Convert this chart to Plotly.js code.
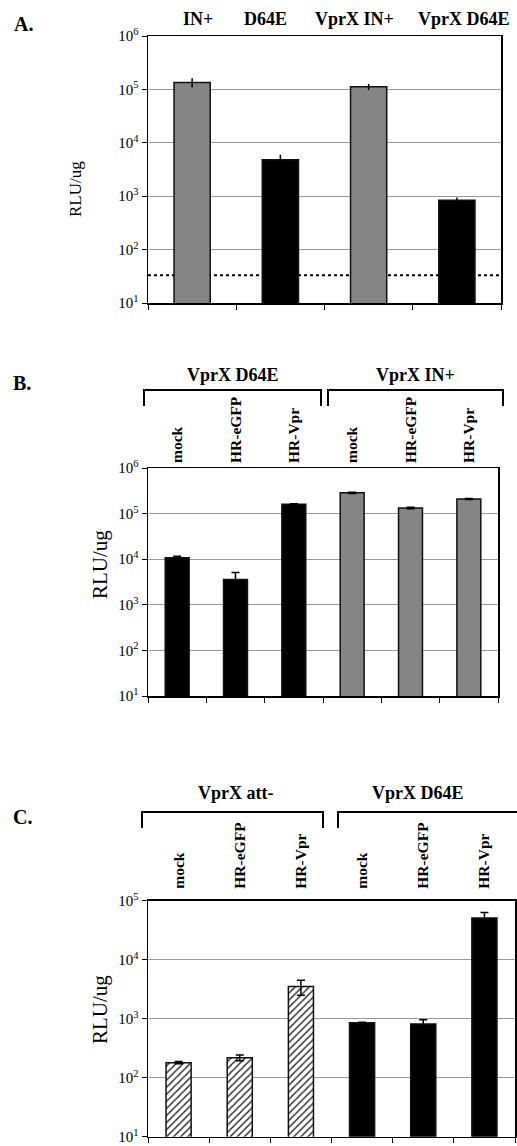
<!DOCTYPE html>
<html>
<head>
<meta charset="utf-8">
<script src="https://cdn.plot.ly/plotly-3.0.1.min.js"></script>
<style>html,body{margin:0;padding:0;background:#fff;}#chart{width:517px;height:1146px;}</style>
</head>
<body>
<div id="chart"></div>
<script>
// ---------- DATA ----------
// Panel A
const aCategories = ['IN+', 'D64E', 'VprX IN+', 'VprX D64E'];
const aValues = [135000, 4800, 112000, 840];
const aErrors = [27000, 1200, 15000, 110];
const aBackground = 33; // dotted background level

// Panel B
const bGroups = ['VprX D64E', 'VprX IN+'];
const bTreatments = ['mock', 'HR-eGFP', 'HR-Vpr', 'mock', 'HR-eGFP', 'HR-Vpr'];
const bValues = [10700, 3600, 160000, 285000, 133000, 210000];
const bErrors = [900, 1500, 4000, 10000, 5000, 5000];

// Panel C
const cGroups = ['VprX att-', 'VprX D64E'];
const cTreatments = ['mock', 'HR-eGFP', 'HR-Vpr', 'mock', 'HR-eGFP', 'HR-Vpr'];
const cValues = [180, 218, 3500, 850, 810, 51000];
const cErrors = [8, 25, 1000, 20, 150, 12000];

// Axis labels
const yTitle = 'RLU/ug';
const yTickVals6 = [10, 100, 1000, 10000, 100000, 1000000];
const yTickText6 = ['10<sup>1</sup>', '10<sup>2</sup>', '10<sup>3</sup>', '10<sup>4</sup>', '10<sup>5</sup>', '10<sup>6</sup>'];
const yTickVals5 = [10, 100, 1000, 10000, 100000];
const yTickText5 = ['10<sup>1</sup>', '10<sup>2</sup>', '10<sup>3</sup>', '10<sup>4</sup>', '10<sup>5</sup>'];

// ---------- STYLE ----------
const W = 517, H = 1146;
const SERIF = 'Liberation Serif, Times New Roman, serif';
const GRAY = '#858585', BLACK = '#000000';
const px = v => v / W;
const py = v => 1 - v / H;

const aFill = [GRAY, BLACK, GRAY, BLACK];
const aLabelShift = [6, -15, -14, 7];
const bFill = [BLACK, BLACK, BLACK, GRAY, GRAY, GRAY];

function idx(arr) { return arr.map((_, i) => i); }
function bounds(n) { const t = []; for (let i = 0; i <= n; i++) t.push(i - 0.5); return t; }

function barTrace(xa, ya, xs, vals, errs, fills, capw, pattern) {
  const t = {
    type: 'bar', x: xs, y: vals, xaxis: xa, yaxis: ya,
    marker: { color: fills, line: { color: '#111', width: 1.5 } },
    error_y: { type: 'data', array: errs, visible: true, color: '#000', thickness: 1.5, width: capw },
    hoverinfo: 'skip', showlegend: false
  };
  if (pattern) t.marker.pattern = { shape: pattern, fgcolor: '#222', bgcolor: '#ffffff', size: 5, solidity: 0.28, fillmode: 'replace' };
  return t;
}
function ghost(xa, ya, vals) {
  return { type: 'scatter', mode: 'markers', x: idx(vals), y: vals, xaxis: xa, yaxis: ya,
    marker: { opacity: 0, size: 1 }, hoverinfo: 'skip', showlegend: false };
}

const cHatchIdx = [0, 1, 2], cSolidIdx = [3, 4, 5];

const data = [
  barTrace('x', 'y', idx(aValues), aValues, aErrors, aFill, 0),
  barTrace('x3', 'y2', idx(bValues), bValues, bErrors, bFill, 4),
  barTrace('x5', 'y3', cHatchIdx, cHatchIdx.map(i => cValues[i]), cHatchIdx.map(i => cErrors[i]), '#ffffff', 4, '/'),
  barTrace('x5', 'y3', cSolidIdx, cSolidIdx.map(i => cValues[i]), cSolidIdx.map(i => cErrors[i]), BLACK, 4),
  ghost('x4', 'y2', bValues),
  ghost('x6', 'y3', cValues)
];

function bottomAxis(n, domain, anchor) {
  return {
    domain: domain, anchor: anchor, range: [-0.5, n - 0.5], tickmode: 'array', tickvals: bounds(n),
    showticklabels: false, ticks: 'outside', ticklen: 5, tickwidth: 1, tickcolor: '#000',
    showgrid: false, zeroline: false, showline: true, linecolor: '#000', linewidth: 1.5, mirror: true, fixedrange: true
  };
}
function topAxis(labels, overlay, anchor, angle, size, standoff) {
  return {
    overlaying: overlay, anchor: anchor, side: 'top', range: [-0.5, labels.length - 0.5],
    tickmode: 'array', tickvals: idx(labels), ticktext: labels, tickangle: angle,
    ticks: '', showgrid: false, zeroline: false, showline: false, ticklabelstandoff: standoff,
    tickfont: { family: SERIF, size: size, color: '#000', weight: 'bold' }, fixedrange: true
  };
}
function yAxis(domain, anchor, rng, tv, tt) {
  return {
    domain: domain, anchor: anchor, type: 'log', range: rng, tickmode: 'array', tickvals: tv, ticktext: tt,
    tickfont: { family: SERIF, size: 15, color: '#000' }, ticks: 'outside', ticklen: 5, tickcolor: '#000',
    showgrid: true, gridcolor: '#9a9a9a', gridwidth: 1, zeroline: false,
    showline: true, linecolor: '#000', linewidth: 1.5, mirror: true, fixedrange: true
  };
}

const domA = { x: [px(148), px(501)], y: [py(303), py(36)] };
const domB = { x: [px(148), px(498)], y: [py(696), py(468)] };
const domC = { x: [px(148), px(515)], y: [py(1136.7), py(900.7)] };

function bracket(x0, x1, yTop, yBot, openRight) {
  let p = `M ${px(x0)},${py(yBot)} L ${px(x0)},${py(yTop)} L ${px(x1)},${py(yTop)}`;
  if (!openRight) p += ` L ${px(x1)},${py(yBot)}`;
  return { type: 'path', xref: 'paper', yref: 'paper', path: p, line: { color: '#000', width: 2 } };
}

function ann(text, x, y, size, bold, angle) {
  return {
    xref: 'paper', yref: 'paper', x: px(x), y: py(y), text: text, showarrow: false,
    xanchor: 'center', yanchor: 'middle', textangle: angle || 0,
    font: { family: SERIF, size: size, color: '#000', weight: bold ? 'bold' : 'normal' }
  };
}

const aTopLabels = aCategories.map((c, i) => ({
  xref: 'x', yref: 'paper', x: i, y: py(31), xshift: aLabelShift[i], text: c, showarrow: false,
  xanchor: 'center', yanchor: 'bottom', font: { family: SERIF, size: 18, color: '#000', weight: 'bold' }
}));

const layout = {
  width: W, height: H, margin: { l: 0, r: 0, t: 0, b: 0 },
  paper_bgcolor: '#fff', plot_bgcolor: 'rgba(0,0,0,0)', showlegend: false, bargap: 0.59, barmode: 'overlay',
  font: { family: SERIF, color: '#000' },
  xaxis: bottomAxis(aCategories.length, domA.x, 'y'),
  yaxis: yAxis(domA.y, 'x', [1, 6], yTickVals6, yTickText6),
  xaxis3: bottomAxis(bTreatments.length, domB.x, 'y2'),
  xaxis4: topAxis(bTreatments, 'x3', 'y2', -90, 15.5, 4),
  yaxis2: yAxis(domB.y, 'x3', [1, 6], yTickVals6, yTickText6),
  xaxis5: bottomAxis(cTreatments.length, domC.x, 'y3'),
  xaxis6: topAxis(cTreatments, 'x5', 'y3', -90, 15.5, 11),
  yaxis3: yAxis(domC.y, 'x5', [1, 5], yTickVals5, yTickText5),
  shapes: [
    { type: 'line', xref: 'x', yref: 'y', x0: -0.5, x1: aValues.length - 0.5,
      y0: aBackground, y1: aBackground,
      layer: 'below', line: { color: '#000', width: 2, dash: 'dot' } },
    bracket(144, 321, 390, 406),
    bracket(328, 503, 390, 406),
    bracket(142, 323, 812, 828),
    bracket(338, 530, 812, 828, true)
  ],
  annotations: [
    ann('A.', 23, 24, 20, true),
    ann('B.', 22, 383, 20, true),
    ann('C.', 22, 817, 20, true),
    ann(yTitle, 76, 189, 17, false, -90),
    ann(yTitle, 100, 565, 21, false, -90),
    ann(yTitle, 100, 1010, 21, false, -90),
    ann(bGroups[0], 233, 375, 18, true),
    ann(bGroups[1], 415, 375, 18, true),
    ann(cGroups[0], 235, 793, 18, true),
    ann(cGroups[1], 418, 793, 18, true)
  ].concat(aTopLabels)
};

Plotly.newPlot('chart', data, layout, { staticPlot: true, displayModeBar: false });
</script>
</body>
</html>
